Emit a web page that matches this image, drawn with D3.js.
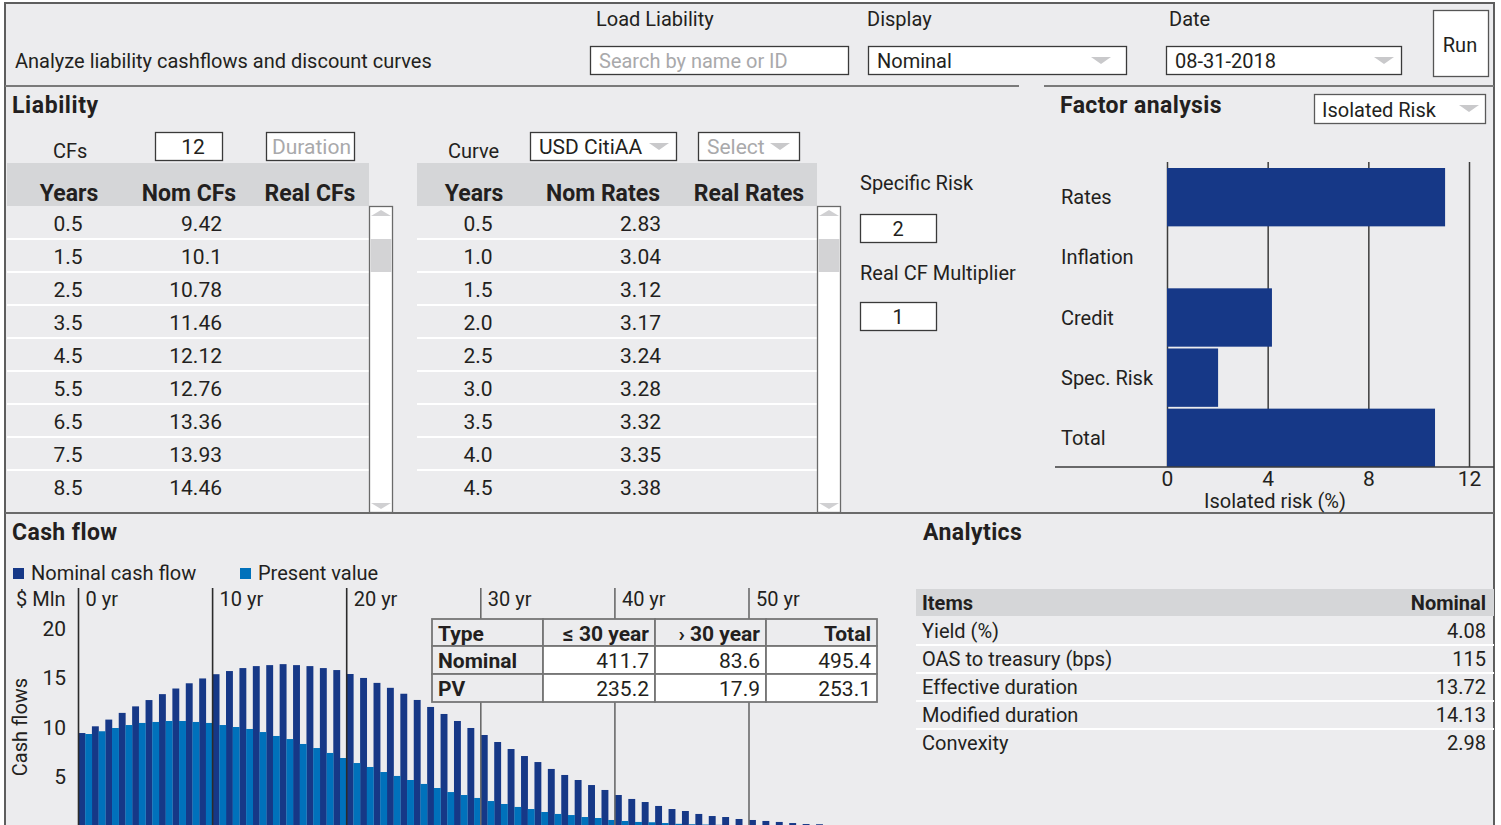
<!DOCTYPE html>
<html>
<head>
<meta charset="utf-8">
<script src="https://cdn.jsdelivr.net/npm/d3@7"></script>
<style>
  html, body { margin: 0; padding: 0; background: #ffffff; overflow: hidden; }
  svg { display: block; font-family: Roboto, "Noto Sans", sans-serif; }
</style>
</head>
<body>
<svg id="dash" width="1501" height="825"></svg>
<script>
// ---------- data ----------
// Liability cash flows (mid-year timing) and their present values, $ Mln
const cfYears = [0.5, 1.5, 2.5, 3.5, 4.5, 5.5, 6.5, 7.5, 8.5, 9.5,
  10.5, 11.5, 12.5, 13.5, 14.5, 15.5, 16.5, 17.5, 18.5, 19.5,
  20.5, 21.5, 22.5, 23.5, 24.5, 25.5, 26.5, 27.5, 28.5, 29.5,
  30.5, 31.5, 32.5, 33.5, 34.5, 35.5, 36.5, 37.5, 38.5, 39.5,
  40.5, 41.5, 42.5, 43.5, 44.5, 45.5, 46.5, 47.5, 48.5, 49.5,
  50.5, 51.5, 52.5, 53.5, 54.5, 55.5];
const nominalCF = [9.42, 10.1, 10.78, 11.46, 12.12, 12.76, 13.36, 13.93, 14.46, 14.95,
  15.38, 15.7, 16.0, 16.2, 16.3, 16.4, 16.3, 16.2, 16.0, 15.8,
  15.4, 15.0, 14.5, 14.0, 13.4, 12.77, 12.06, 11.35, 10.64, 9.93,
  9.22, 8.51, 7.8, 7.09, 6.48, 5.78, 5.17, 4.66, 4.15, 3.65,
  3.14, 2.74, 2.43, 2.03, 1.72, 1.52, 1.22, 1.01, 0.91, 0.71,
  0.61, 0.51, 0.41, 0.30, 0.20, 0.18];
const presentValue = [9.32, 9.6, 9.93, 10.23, 10.44, 10.54, 10.64, 10.64, 10.54, 10.44,
  10.23, 10.03, 9.83, 9.52, 9.12, 8.81, 8.31, 7.9, 7.4, 6.89,
  6.38, 5.98, 5.47, 5.07, 4.66, 4.26, 3.85, 3.44, 3.14, 2.84,
  2.53, 2.23, 1.93, 1.72, 1.42, 1.22, 1.11, 0.91, 0.81, 0.61,
  0.51, 0.41, 0.38, 0.3, 0.22, 0.18, 0.15, 0.12, 0.1, 0.08,
  0.07, 0.06, 0.05, 0.04, 0.03, 0.03];
const cfTicks = [5, 10, 15, 20];
const yearMarks = [0, 10, 20, 30, 40, 50];

// Discount curve
const curveYears = [0.5, 1.0, 1.5, 2.0, 2.5, 3.0, 3.5, 4.0, 4.5];
const nomRates = [2.83, 3.04, 3.12, 3.17, 3.24, 3.28, 3.32, 3.35, 3.38];

// Factor analysis (isolated risk, %)
const factorNames = ["Rates", "Inflation", "Credit", "Spec. Risk", "Total"];
const factorRisk = [11.05, 0, 4.17, 2.03, 10.65];
const factorTicks = [0, 4, 8, 12];

// Cash flow summary table
const summaryHeads = ["Type", "\u2264 30 year", "\u203a 30 year", "Total"];
const summaryTypes = ["Nominal", "PV"];
const summaryNominal = [411.7, 83.6, 495.4];
const summaryPV = [235.2, 17.9, 253.1];

// Analytics
const analyticsItems = ["Yield (%)", "OAS to treasury (bps)", "Effective duration", "Modified duration", "Convexity"];
const analyticsNominal = [4.08, 115, 13.72, 14.13, 2.98];

// ---------- styling ----------
const INK = "#231f20";
const BG = "#ececee";
const HEAD = "#d5d6d8";
const NAVY = "#163887";
const BLUE = "#0071bb";
const GHOST = "#a9a9ab";

const svg = d3.select("#dash");

function label(g, x, y, txt, o = {}) {
  return g.append("text")
    .attr("x", x).attr("y", y).attr("dy", "0.35em")
    .attr("font-size", o.size || 20)
    .attr("font-weight", o.bold ? 700 : 400)
    .attr("letter-spacing", o.ls || null)
    .attr("text-anchor", o.anchor || "start")
    .attr("fill", o.fill || INK)
    .text(txt);
}
function field(g, x, y, w, h, stroke = "#3a3a3a") {
  return g.append("rect").attr("x", x + 0.5).attr("y", y + 0.5)
    .attr("width", w).attr("height", h)
    .attr("fill", "#ffffff").attr("stroke", stroke).attr("stroke-width", 1.3);
}
function caret(g, cx, cy) {
  g.append("path")
    .attr("d", `M${cx - 10},${cy - 3}L${cx + 10},${cy - 3}L${cx},${cy + 4}Z`)
    .attr("fill", "#c9c9cb");
}
function scrollbar(g, x, y0, y1, thumb0, thumb1) {
  g.append("rect").attr("x", x + 0.5).attr("y", y0 + 0.5).attr("width", 23).attr("height", y1 - y0)
    .attr("fill", "#ffffff").attr("stroke", "#6a6a6a").attr("stroke-width", 1.3);
  g.append("rect").attr("x", x + 1.5).attr("y", thumb0).attr("width", 21).attr("height", thumb1 - thumb0)
    .attr("fill", "#d3d3d5");
  const cx = x + 12;
  g.append("path").attr("d", `M${cx - 10},${y0 + 10}L${cx + 10},${y0 + 10}L${cx},${y0 + 4}Z`).attr("fill", "#d0d0d2");
  g.append("path").attr("d", `M${cx - 10},${y1 - 9}L${cx + 10},${y1 - 9}L${cx},${y1 - 3}Z`).attr("fill", "#d0d0d2");
}

// ---------- frame ----------
svg.append("rect").attr("x", 5).attr("y", 3).attr("width", 1489).attr("height", 840)
  .attr("fill", BG).attr("stroke", "#5e5e5e").attr("stroke-width", 2);
const frame = svg.append("g");
frame.append("line").attr("x1", 5).attr("x2", 1019).attr("y1", 86).attr("y2", 86)
  .attr("stroke", "#7a7a7a").attr("stroke-width", 2);
frame.append("line").attr("x1", 1044).attr("x2", 1494).attr("y1", 86).attr("y2", 86)
  .attr("stroke", "#7a7a7a").attr("stroke-width", 2);
frame.append("line").attr("x1", 5).attr("x2", 1494).attr("y1", 513).attr("y2", 513)
  .attr("stroke", "#6a6a6a").attr("stroke-width", 2);

// ---------- header ----------
const head = svg.append("g");
label(head, 15, 61, "Analyze liability cashflows and discount curves");
label(head, 596, 19, "Load Liability");
field(head, 590, 46, 258, 28);
label(head, 599, 61, "Search by name or ID", { fill: GHOST });
label(head, 867, 19, "Display");
field(head, 868, 46, 258, 28);
label(head, 877, 61, "Nominal");
caret(head, 1101, 60);
label(head, 1169, 19, "Date");
field(head, 1166, 46, 235, 28);
label(head, 1175, 61, "08-31-2018");
caret(head, 1384, 60);
field(head, 1433, 10, 55, 66, "#555");
label(head, 1460, 45, "Run", { anchor: "middle" });

// ---------- liability table ----------
const liab = svg.append("g");
label(liab, 12, 105, "Liability", { size: 23, bold: true, ls: "0.6px" });
label(liab, 53, 151, "CFs");
field(liab, 155, 132, 67, 28);
label(liab, 193, 147, "12", { anchor: "middle", size: 21 });
field(liab, 266, 132, 88, 28);
label(liab, 272, 147, "Duration", { fill: GHOST, size: 21 });

const rowBand = d3.scaleBand().domain(d3.range(9)).range([206, 503]).paddingInner(0);

function dataTable(g, x0, x1, heads, headX, years, yearX, vals, valX) {
  g.append("rect").attr("x", x0).attr("y", 163).attr("width", x1 - x0).attr("height", 43).attr("fill", HEAD);
  heads.forEach((h, i) => label(g, headX[i], 193, h, { size: 23, bold: true, anchor: "middle" }));
  g.selectAll("line.sep").data(d3.range(1, 9)).join("line").attr("class", "sep")
    .attr("x1", x0).attr("x2", x1)
    .attr("y1", i => rowBand(i)).attr("y2", i => rowBand(i))
    .attr("stroke", "#ffffff").attr("stroke-width", 2);
  g.selectAll("text.yr").data(years).join("text").attr("class", "yr")
    .attr("x", yearX).attr("y", (d, i) => rowBand(i) + rowBand.bandwidth() / 2 + 1).attr("dy", "0.35em")
    .attr("text-anchor", "middle").attr("font-size", 21).attr("fill", INK)
    .text(d => d.text);
  g.selectAll("text.val").data(vals).join("text").attr("class", "val")
    .attr("x", valX).attr("y", (d, i) => rowBand(i) + rowBand.bandwidth() / 2 + 1).attr("dy", "0.35em")
    .attr("text-anchor", "end").attr("font-size", 21).attr("fill", INK)
    .text(d => d.text);
}

dataTable(liab, 7, 369, ["Years", "Nom CFs", "Real CFs"], [69, 189, 310],
  cfYears.slice(0, 9).map(v => ({ text: String(v) })), 68,
  nominalCF.slice(0, 9).map(v => ({ text: String(v) })), 222);
scrollbar(liab, 369, 206, 512, 239, 272);

// ---------- discount curve table ----------
const curve = svg.append("g");
label(curve, 448, 151, "Curve");
field(curve, 530, 132, 146, 28);
label(curve, 539, 147, "USD CitiAA", { size: 21 });
caret(curve, 659, 146);
field(curve, 698, 132, 101, 28);
label(curve, 707, 147, "Select", { fill: GHOST, size: 21 });
caret(curve, 780, 146);

dataTable(curve, 417, 817, ["Years", "Nom Rates", "Real Rates"], [474, 603, 749],
  curveYears.map(v => ({ text: v.toFixed(1) })), 478,
  nomRates.map(v => ({ text: v.toFixed(2) })), 661);
scrollbar(curve, 817, 206, 512, 239, 272);

// ---------- inputs ----------
const inputs = svg.append("g");
label(inputs, 860, 183, "Specific Risk");
field(inputs, 860, 214, 76, 28);
label(inputs, 898, 229, "2", { anchor: "middle" });
label(inputs, 860, 273, "Real CF Multiplier");
field(inputs, 860, 302, 76, 28);
label(inputs, 898, 317, "1", { anchor: "middle" });

// ---------- factor analysis ----------
const fa = svg.append("g");
label(fa, 1060, 105, "Factor analysis", { size: 23, bold: true, ls: "0.4px" });
field(fa, 1314, 94, 171, 29, "#5a5a5a");
label(fa, 1322, 110, "Isolated Risk");
caret(fa, 1469, 108);

const fx = d3.scaleLinear().domain([0, 12]).range([1167, 1469]);
const fy = d3.scaleBand().domain(factorNames).range([168, 467]).paddingInner(0.03).paddingOuter(0);

const fAxis = fa.append("g").attr("transform", "translate(0,467)")
  .call(d3.axisBottom(fx).tickValues(factorTicks).tickSizeInner(-305).tickSizeOuter(0).tickPadding(4));
fAxis.select(".domain").remove();
fAxis.selectAll(".tick line").attr("stroke", "#3c3c3c").attr("stroke-width", 1.5);
fAxis.selectAll(".tick text").attr("font-size", 21).attr("fill", INK).attr("font-family", "Roboto, sans-serif");

fa.selectAll("rect.bar").data(factorNames).join("rect").attr("class", "bar")
  .attr("x", fx(0)).attr("y", d => fy(d))
  .attr("width", (d, i) => fx(factorRisk[i]) - fx(0))
  .attr("height", fy.bandwidth())
  .attr("fill", NAVY);
fa.append("line").attr("x1", 1055).attr("x2", 1494).attr("y1", 467).attr("y2", 467)
  .attr("stroke", "#3c3c3c").attr("stroke-width", 1.5);
fa.selectAll("text.cat").data(factorNames).join("text").attr("class", "cat")
  .attr("x", 1061).attr("y", d => fy(d) + fy.bandwidth() / 2).attr("dy", "0.35em")
  .attr("font-size", 20).attr("fill", INK).text(d => d);
label(fa, 1275, 501, "Isolated risk (%)", { anchor: "middle" });

// ---------- cash flow chart ----------
const cf = svg.append("g");
label(cf, 12, 532, "Cash flow", { size: 23, bold: true, ls: "0.4px" });
cf.append("rect").attr("x", 13).attr("y", 568).attr("width", 11).attr("height", 11).attr("fill", NAVY);
label(cf, 31, 573, "Nominal cash flow");
cf.append("rect").attr("x", 240).attr("y", 568).attr("width", 11).attr("height", 11).attr("fill", BLUE);
label(cf, 258, 573, "Present value");
label(cf, 16, 599, "$ Mln");

const cx = d3.scaleLinear().domain([0, 50]).range([78.5, 749]);
const cy = d3.scaleLinear().domain([0, 20]).range([826, 628.6]);
const band = d3.scaleBand().domain(cfYears).range([cx(0), cx(cfYears.length)]).padding(0);
const sub = d3.scaleBand().domain(["nominal", "pv"]).range([0, band.bandwidth()]).padding(0);

const series = [
  { key: "nominal", values: nominalCF, color: NAVY },
  { key: "pv", values: presentValue, color: BLUE }
];
series.forEach(s => {
  cf.append("g").selectAll("rect").data(s.values).join("rect")
    .attr("x", (d, i) => band(cfYears[i]) + sub(s.key))
    .attr("y", d => cy(d))
    .attr("width", sub.bandwidth() + 0.2)
    .attr("height", d => cy(0) - cy(d))
    .attr("fill", s.color);
});

const yAxis = cf.append("g").attr("transform", "translate(70,0)")
  .call(d3.axisLeft(cy).tickValues(cfTicks).tickSize(0).tickPadding(4));
yAxis.select(".domain").remove();
yAxis.selectAll(".tick text").attr("font-size", 21).attr("fill", INK).attr("font-family", "Roboto, sans-serif");
cf.append("text").attr("transform", "translate(20,727) rotate(-90)").attr("dy", "0.35em")
  .attr("text-anchor", "middle").attr("font-size", 20).attr("fill", INK).text("Cash flows");

cf.selectAll("line.mark").data(yearMarks).join("line").attr("class", "mark")
  .attr("x1", d => cx(d)).attr("x2", d => cx(d)).attr("y1", 588).attr("y2", 826)
  .attr("stroke", d => d < 30 ? "#2b2b2b" : "#6b6b6b").attr("stroke-width", 1.6);
cf.selectAll("text.mark").data(yearMarks).join("text").attr("class", "mark")
  .attr("x", d => cx(d) + 7).attr("y", 599).attr("dy", "0.35em")
  .attr("font-size", 20).attr("fill", INK).text(d => `${d} yr`);

// summary table
const tColX = [432, 543, 655, 766, 877];
const tRowY = [619, 646, 674, 702];
const st = cf.append("g");
const cells = [];
summaryHeads.forEach((h, c) => cells.push({ r: 0, c, text: h, bold: true, white: false }));
summaryTypes.forEach((t, r) => {
  cells.push({ r: r + 1, c: 0, text: t, bold: true, white: false });
  const vals = r === 0 ? summaryNominal : summaryPV;
  vals.forEach((v, k) => cells.push({ r: r + 1, c: k + 1, text: v.toFixed(1), bold: false, white: true }));
});
st.selectAll("rect").data(cells).join("rect")
  .attr("x", d => tColX[d.c]).attr("y", d => tRowY[d.r])
  .attr("width", d => tColX[d.c + 1] - tColX[d.c]).attr("height", d => tRowY[d.r + 1] - tRowY[d.r])
  .attr("fill", d => d.white ? "#ffffff" : BG)
  .attr("stroke", "#767676").attr("stroke-width", 1.8);
st.selectAll("text").data(cells).join("text")
  .attr("x", d => d.c === 0 ? tColX[0] + 6 : tColX[d.c + 1] - 6)
  .attr("y", d => (tRowY[d.r] + tRowY[d.r + 1]) / 2 + 1).attr("dy", "0.35em")
  .attr("text-anchor", d => d.c === 0 ? "start" : "end")
  .attr("font-size", 21).attr("font-weight", d => d.bold ? 700 : 400)
  .attr("fill", INK).text(d => d.text);

// ---------- analytics ----------
const an = svg.append("g");
label(an, 923, 532, "Analytics", { size: 23, bold: true, ls: "0.4px" });
an.append("rect").attr("x", 916).attr("y", 589).attr("width", 578).attr("height", 27).attr("fill", HEAD);
label(an, 922, 603, "Items", { bold: true });
label(an, 1486, 603, "Nominal", { bold: true, anchor: "end" });
const aRow = d3.scaleBand().domain(analyticsItems).range([617, 757]);
an.selectAll("line").data(analyticsItems.slice(1)).join("line")
  .attr("x1", 916).attr("x2", 1494).attr("y1", d => aRow(d)).attr("y2", d => aRow(d))
  .attr("stroke", "#ffffff").attr("stroke-width", 2);
an.selectAll("text.item").data(analyticsItems).join("text").attr("class", "item")
  .attr("x", 922).attr("y", d => aRow(d) + aRow.bandwidth() / 2).attr("dy", "0.35em")
  .attr("font-size", 20).attr("fill", INK).text(d => d);
an.selectAll("text.num").data(analyticsNominal).join("text").attr("class", "num")
  .attr("x", 1486).attr("y", (d, i) => aRow(analyticsItems[i]) + aRow.bandwidth() / 2).attr("dy", "0.35em")
  .attr("text-anchor", "end").attr("font-size", 20).attr("fill", INK).text(d => String(d));
</script>
</body>
</html>
